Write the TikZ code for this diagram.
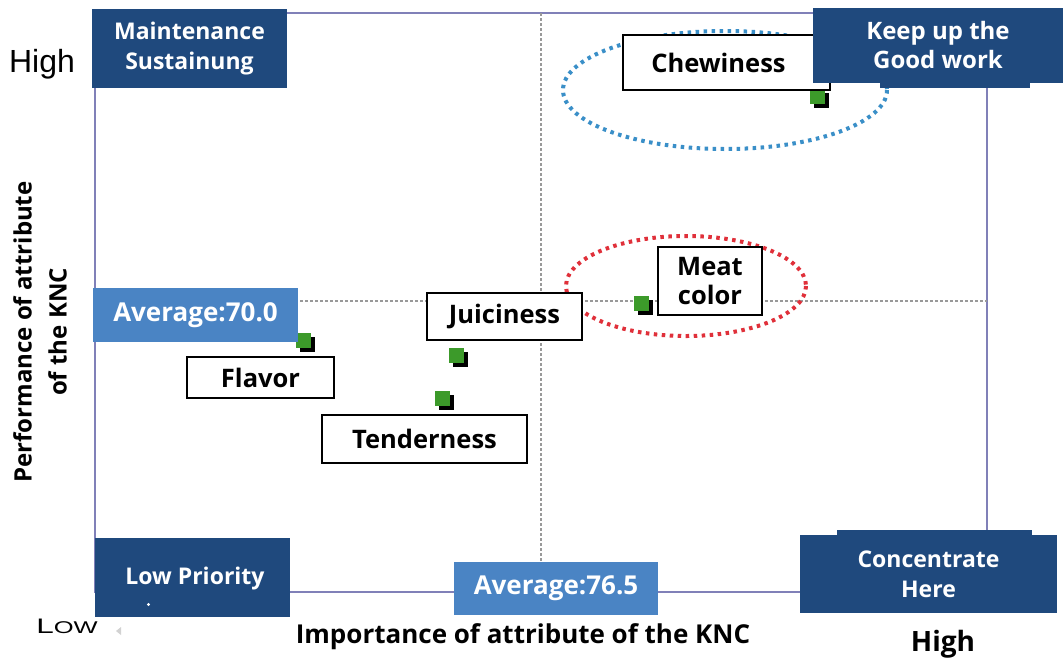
\documentclass[tikz,border=0pt]{standalone}
\usepackage{fontspec}
\setmainfont{Open Sans}
\newfontfamily\plainfont{Liberation Sans}
\usetikzlibrary{shadows}
\definecolor{quaddark}{HTML}{1F497D}
\definecolor{avgblue}{HTML}{4A84C4}
\definecolor{framecol}{HTML}{8080B8}
\definecolor{dotgreen}{HTML}{3C9A2A}
\definecolor{ringblue}{HTML}{3A8FC8}
\definecolor{ringred}{HTML}{E0303A}
\tikzset{
  quad/.style={fill=quaddark, text=white, inner sep=0pt, align=center,
    font=\bfseries\fontsize{23}{30}\selectfont},
  avgbox/.style={fill=avgblue, text=white, inner sep=0pt,
    font=\bfseries\fontsize{26}{30}\selectfont},
  attr/.style={draw=black, line width=1.6pt, fill=white, inner sep=0pt, align=center,
    font=\bfseries\fontsize{25.5}{30}\selectfont},
  pointmark/.style={fill=dotgreen, minimum size=15pt, inner sep=0pt,
    drop shadow={shadow xshift=4pt, shadow yshift=-4pt, fill=black, opacity=1}},
  frameline/.style={draw=framecol, line width=1.8pt},
  midline/.style={draw=gray!80, line width=1.2pt, dash pattern=on 3pt off 2pt},
  ring/.style={line width=4pt, dash pattern=on 3.5pt off 4.5pt},
  axistitle/.style={font=\bfseries\fontsize{26}{30}\selectfont, align=center},
}
\begin{document}
\begin{tikzpicture}[x=1pt,y=-1pt]
\useasboundingbox[fill=white] (0,0) rectangle (1063,657);

% plot frame and the two average lines
\coordinate (tl) at (95,13);
\coordinate (br) at (987,592);
\draw[frameline] (tl) rectangle (br);
\coordinate (vtop) at (541,13);
\coordinate (vbot) at (541,592);
\coordinate (hleft) at (95,301);
\coordinate (hright) at (987,301);
\draw[midline] (vtop) -- (vbot);
\draw[midline] (hleft) -- (hright);

% highlighted groups
\draw[ring, ringblue] (725,90) ellipse [x radius=162, y radius=59];
\draw[ring, ringred] (686,286) ellipse [x radius=120, y radius=50];

% attribute positions
\node[pointmark] (pchew) at (817,96) {};
\node[pointmark] (pmeat) at (641,303) {};
\node[pointmark] (pflav) at (303,340) {};
\node[pointmark] (pjuic) at (456,355) {};
\node[pointmark] (ptend) at (442,398) {};

% attribute labels
\node[attr, minimum width=207pt, minimum height=55pt] (chew) at (726.5,62.5) {Chewiness\hspace*{16pt}};
\node[attr, minimum width=104pt, minimum height=68pt] (meat) at (710,281) {Meat\\[-1pt]color};
\node[attr, minimum width=155pt, minimum height=47pt] (juic) at (504.5,316.5) {Juiciness};
\node[attr, minimum width=147pt, minimum height=41pt] (flav) at (260.5,377.5) {Flavor};
\node[attr, minimum width=205pt, minimum height=48pt] (tend) at (424.5,439) {Tenderness};

% average markers
\node[avgbox, minimum width=205pt, minimum height=54pt] (avgy) at (195.5,315) {Average:70.0};
\node[avgbox, minimum width=204pt, minimum height=53pt] (avgx) at (556,588.5) {Average:76.5};

% quadrant captions
\node[quad, minimum width=195pt, minimum height=79pt] (maint) at (189.5,48.5) {Maintenance\\Sustainung};
\fill[quaddark] (880,60) rectangle (1030,88);
\node[quad, font=\bfseries\fontsize{24}{29}\selectfont, minimum width=250pt, minimum height=75pt] (keep) at (938,45) {Keep up the\\Good work};
\node[quad, minimum width=195pt, minimum height=79pt] (lowp) at (192.5,577.5) {};
\node[quad] (lowptxt) at (195,579) {Low Priority};
\fill[white] (lowp.center) ++(-44,27) circle (1.6pt);
\fill[quaddark] (837,530) rectangle (1032,540);
\node[quad, minimum width=257pt, minimum height=78pt] (conc) at (928.5,574) {Concentrate\\Here};

% axis ends and titles
\node[font=\plainfont\fontsize{32}{36}\selectfont, anchor=base] (yhigh) at (42,72) {High};
\node[font=\plainfont\fontsize{21}{24}\selectfont, anchor=base, xscale=1.5] (xlow) at (67,633) {L{\fontsize{17}{20}\selectfont OW}};
\fill[gray!35] (116,631) -- (121,627) -- (121,635) -- cycle;
\node[axistitle, font=\bfseries\fontsize{28}{30}\selectfont, anchor=base] (xhigh) at (943,651) {High};
\node[axistitle, anchor=base] (xtitle) at (523,643) {Importance of attribute of the KNC};
\node[axistitle, rotate=90, font=\bfseries\fontsize{24}{35}\selectfont] (ytitle) at (40,332) {Performance of attribute\\of the KNC};
\end{tikzpicture}
\end{document}
